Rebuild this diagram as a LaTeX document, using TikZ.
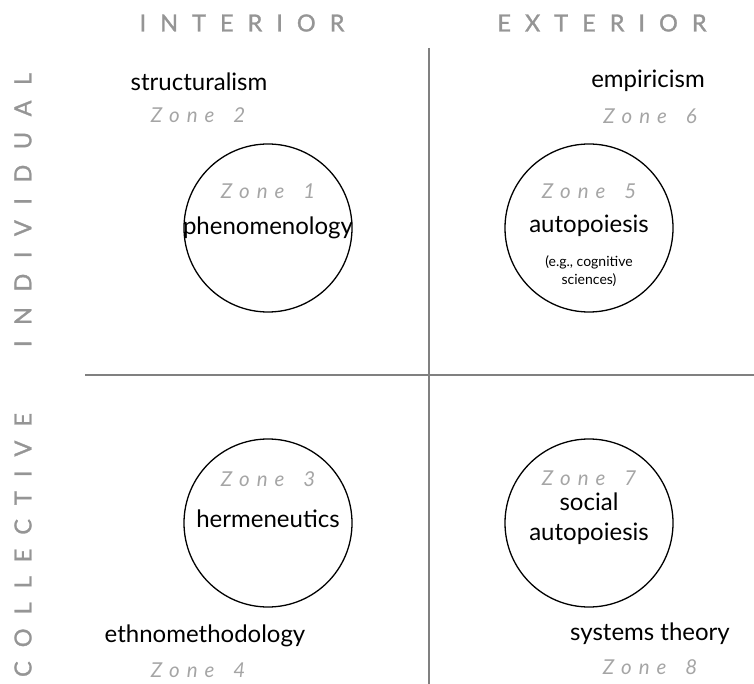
\documentclass[tikz,border=0pt]{standalone}
\usepackage{fontspec}
\setmainfont{Lato}
\newfontfamily\headfont[FakeBold=1.2]{Lato}
\definecolor{hdr}{HTML}{959595}
\definecolor{zone}{HTML}{A5A5A5}
\definecolor{rule}{HTML}{808080}
\makeatletter
\newcommand\spc[2]{\def\spc@gap{#1}\spc@first#2\@nil}
\def\spc@first#1{\ifx#1\@nil\else#1\expandafter\spc@rest\fi}
\def\spc@rest#1{\ifx#1\@nil\else\hskip\spc@gap\relax#1\expandafter\spc@rest\fi}
\makeatother
\tikzset{
  quad/.style={circle, draw=black, line width=1.3pt, minimum size=168pt, inner sep=0pt},
  term/.style={inner sep=0pt, font=\fontsize{24}{30}\selectfont, text=black},
  small/.style={inner sep=0pt, font=\fontsize{14}{18}\selectfont, text=black, align=center},
  zonelbl/.style={inner sep=0pt, font=\fontsize{20.5}{24}\selectfont\itshape, text=zone},
  head/.style={inner sep=0pt, font=\headfont\fontsize{23.5}{28}\selectfont, text=hdr},
  axis/.style={draw=rule, line width=1.6pt},
}
\begin{document}
\begin{tikzpicture}[x=1pt,y=-1pt]
\useasboundingbox (0,0) rectangle (754,684);
% axes
\coordinate (vt) at (429,48);
\coordinate (vb) at (429,684);
\coordinate (hl) at (85,375);
\coordinate (hr) at (754,375);
\draw[axis] (vt) -- (vb);
\draw[axis] (hl) -- (hr);
% headers
\node[head] (hint) at (242,23) {\spc{14pt}{INTERIOR}};
\node[head] (hext) at (602,23) {\spc{14pt}{EXTERIOR}};
\node[head, rotate=90] (hind) at (23,210) {\spc{15.5pt}{INDIVIDUAL}};
\node[head, rotate=90] (hcol) at (23,545) {\spc{14pt}{COLLECTIVE}};
% circles
\node[quad] (c1) at (268,228) {};
\node[quad] (c5) at (589,228) {};
\node[quad] (c3) at (268,523) {};
\node[quad] (c7) at (589,523) {};
% zone 1
\node[zonelbl] (z1) at (268,191) {\spc{7pt}{Zone~1}};
\node[term] (t1) at (268,228) {phenomenology};
% zone 2
\node[term] (t2) at (199,82) {structuralism};
\node[zonelbl] (z2) at (198,115) {\spc{7pt}{Zone~2}};
% zone 5
\node[zonelbl] (z5) at (589,191) {\spc{7pt}{Zone~5}};
\node[term] (t5) at (589,226) {autopoiesis};
\node[small] (t5b) at (589,271) {(e.g., cognitive\\sciences)};
% zone 6
\node[term] (t6) at (648,81) {empiricism};
\node[zonelbl] (z6) at (650,116) {\spc{7pt}{Zone~6}};
% zone 3
\node[zonelbl] (z3) at (268,479) {\spc{7pt}{Zone~3}};
\node[term] (t3) at (268,519) {hermeneutics};
% zone 4
\node[term] (t4) at (205,636) {ethnomethodology};
\node[zonelbl] (z4) at (198,670) {\spc{7pt}{Zone~4}};
% zone 7
\node[zonelbl] (z7) at (589,478) {\spc{7pt}{Zone~7}};
\node[term, align=center] (t7) at (589,519) {social\\autopoiesis};
% zone 8
\node[term] (t8) at (650,634) {systems theory};
\node[zonelbl] (z8) at (650,667) {\spc{7pt}{Zone~8}};
\end{tikzpicture}
\end{document}
